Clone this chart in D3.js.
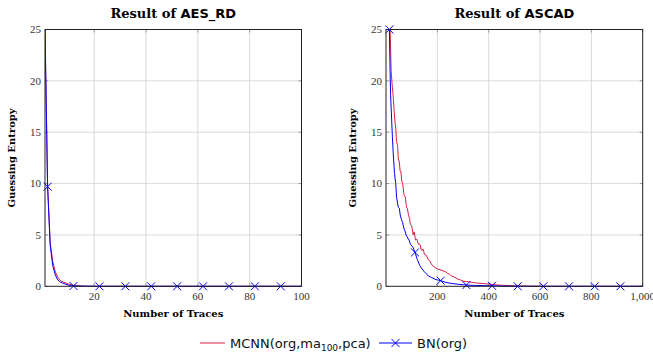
<!DOCTYPE html>
<html><head><meta charset="utf-8">
<script src="https://cdn.jsdelivr.net/npm/d3@7"></script>
<style>
body{margin:0;background:#fff;}
svg{display:block;}
.serif{font-family:"DejaVu Serif","Liberation Serif",serif;}
.tick{font-family:"Liberation Serif","DejaVu Serif",serif;}
</style></head>
<body>
<svg id="c" width="653" height="358"></svg>
<script>
// ---------- data ----------
// Left: AES_RD
const aesX_red  = [1,2,3,4,5,6,7,8,9,10,11,12,13,14,15,16,100];
const aesY_red  = [25,9.9,4.3,2.4,1.4,0.85,0.55,0.42,0.32,0.22,0.16,0.11,0.08,0.05,0.02,0,0];
const aesX_blue = [1,2,3,4,5,6,7,8,9,10,11,12,22,32,42,52,62,72,82,92,100];
const aesY_blue = [25,9.7,4.0,2.0,1.1,0.6,0.4,0.3,0.2,0.12,0.06,0.03,0,0,0,0,0,0,0,0,0];
const aesMarkers = [2,12,22,32,42,52,62,72,82,92];
const aesXTicks = [20,40,60,80,100];

// Right: ASCAD
const ascX_red = [1,16,20,24,28,32,35,38,41,45,48,52,55,58,61,65,70,75,80,83,88,92,95,100,106,110,115,120,126,132,138,145,150,158,164,170,176,182,190,200,210,222,232,240,248,256,268,280,290,301,315,330,350,375,400,425,450,500,550,600,1000];
const ascY_red = [25,25,21,19.6,18.5,17.0,16.0,15.4,14.1,13.7,12.4,12.1,11.2,11.2,10.3,10.0,8.9,8.7,7.7,7.6,6.9,6.6,6.0,5.9,5.0,5.3,4.5,4.6,4.1,4.1,3.5,3.6,3.1,3.0,2.6,2.5,2.2,2.0,1.85,1.7,1.62,1.5,1.42,1.25,1.17,1.0,0.88,0.7,0.62,0.5,0.46,0.4,0.33,0.28,0.22,0.15,0.1,0.05,0.02,0,0];
const ascX_blue = [1,13,16,18,22,25,28,33,38,41,45,48,52,55,60,65,70,74,78,85,90,95,105,113,122,132,140,150,158,165,178,190,200,213,230,250,280,313,350,413,460,513,613,713,813,913,1000];
const ascY_blue = [25,25,21,18.6,16.2,14.5,13,11,10,8.7,8.1,7.7,7.6,7.0,6.5,6.2,5.6,5.4,5.0,4.7,4.5,4.1,3.8,3.3,2.6,2.0,1.7,1.4,1.2,1.0,0.85,0.7,0.62,0.55,0.4,0.3,0.2,0.12,0.08,0.05,0.02,0,0,0,0,0,0];
const ascMarkers = [13,113,213,313,413,513,613,713,813,913];
const ascXTicks = [200,400,600,800,1000];

const yTicks = [0,5,10,15,20,25];
const legendLabels = ["MCNN(org,ma", "100", ",pca)", "BN(org)"];
const RED = "#dc1e46", BLUE = "#0000ff";

// ---------- drawing ----------
const svg = d3.select("#c");
const y = d3.scaleLinear().domain([0,25]).range([286.3,29.5]);

function panel(opts){
  const x = d3.scaleLinear().domain(opts.domain).range(opts.range);
  const g = svg.append("g");
  const [x0,x1] = opts.range, [y0,y1] = [y.range()[0], y.range()[1]];
  // grid
  g.selectAll(".gx").data(opts.xticks.filter(t=>t<opts.domain[1])).join("line")
    .attr("x1",d=>x(d)).attr("x2",d=>x(d)).attr("y1",y0).attr("y2",y1)
    .attr("stroke","#d0d0d0").attr("stroke-width",0.8);
  g.selectAll(".gy").data(yTicks.filter(t=>t>0&&t<25)).join("line")
    .attr("x1",x0).attr("x2",x1).attr("y1",d=>y(d)).attr("y2",d=>y(d))
    .attr("stroke","#d0d0d0").attr("stroke-width",0.8);
  // inward ticks
  const tk = 3;
  opts.xticks.forEach(t=>{
    g.append("line").attr("x1",x(t)).attr("x2",x(t)).attr("y1",y0).attr("y2",y0-tk).attr("stroke","#888").attr("stroke-width",0.8);
    g.append("line").attr("x1",x(t)).attr("x2",x(t)).attr("y1",y1).attr("y2",y1+tk).attr("stroke","#888").attr("stroke-width",0.8);
  });
  yTicks.forEach(t=>{
    g.append("line").attr("x1",x0).attr("x2",x0+tk).attr("y1",y(t)).attr("y2",y(t)).attr("stroke","#888").attr("stroke-width",0.8);
    g.append("line").attr("x1",x1).attr("x2",x1-tk).attr("y1",y(t)).attr("y2",y(t)).attr("stroke","#888").attr("stroke-width",0.8);
  });
  // lines
  const line = d3.line().x(d=>x(d[0])).y(d=>y(d[1]));
  const clipId = "clip"+opts.id;
  svg.append("clipPath").attr("id",clipId).append("rect")
    .attr("x",x0).attr("y",y1-2).attr("width",x1-x0+2).attr("height",y0-y1+4);
  const lg = g.append("g").attr("clip-path",`url(#${clipId})`);
  lg.append("path").datum(d3.zip(opts.redX,opts.redY)).attr("d",line)
    .attr("fill","none").attr("stroke",RED).attr("stroke-width",1);
  lg.append("path").datum(d3.zip(opts.blueX,opts.blueY)).attr("d",line)
    .attr("fill","none").attr("stroke",BLUE).attr("stroke-width",1);
  // markers
  const mk = d3.zip(opts.blueX,opts.blueY).filter(d=>opts.markers.includes(d[0]));
  const s = 4;
  mk.forEach(d=>{
    const cx=x(d[0]), cy=y(d[1]);
    g.append("path").attr("d",`M${cx-s},${cy-s}L${cx+s},${cy+s}M${cx-s},${cy+s}L${cx+s},${cy-s}`)
      .attr("stroke",BLUE).attr("stroke-width",1).attr("fill","none");
  });
  // frame
  g.append("rect").attr("x",x0).attr("y",y1).attr("width",x1-x0).attr("height",y0-y1)
    .attr("fill","none").attr("stroke","#222").attr("stroke-width",1);
  // tick labels
  g.selectAll(".xl").data(opts.xticks).join("text").attr("class","tick")
    .attr("x",d=>x(d)).attr("y",y0+14).attr("text-anchor","middle")
    .attr("font-size",11).attr("fill","#333").text(d=>d3.format(",")(d));
  g.selectAll(".yl").data(yTicks).join("text").attr("class","tick")
    .attr("x",x0-4).attr("y",d=>y(d)+3.8).attr("text-anchor","end")
    .attr("font-size",11).attr("fill","#333").text(d=>d);
  // title
  const cx = (x0+x1)/2;
  const t = g.append("text").attr("x",cx).attr("y",18).attr("text-anchor","middle")
    .attr("font-size",13).attr("font-weight","bold");
  t.append("tspan").attr("class","serif").text("Result of ");
  t.append("tspan").attr("font-family","DejaVu Sans, sans-serif").attr("font-size",13).text(opts.title);
  // axis labels
  g.append("text").attr("class","serif").attr("x",cx).attr("y",317).attr("text-anchor","middle")
    .attr("font-size",10).attr("font-weight","bold").text("Number of Traces");
  g.append("text").attr("class","serif").attr("transform",`translate(${opts.ylabX},158) rotate(-90)`)
    .attr("text-anchor","middle").attr("font-size",10).attr("font-weight","bold").text("Guessing Entropy");
}

panel({id:1, domain:[1,100], range:[45,301.5], xticks:aesXTicks, redX:aesX_red, redY:aesY_red,
  blueX:aesX_blue, blueY:aesY_blue, markers:aesMarkers, title:"AES_RD", ylabX:15});
panel({id:2, domain:[0,1000], range:[386,642.7], xticks:ascXTicks, redX:ascX_red, redY:ascY_red,
  blueX:ascX_blue, blueY:ascY_blue, markers:ascMarkers, title:"ASCAD", ylabX:356});

// legend
const L = svg.append("g").attr("font-family","DejaVu Sans, sans-serif").attr("font-size",13).attr("fill","#111");
L.append("line").attr("x1",200).attr("x2",225).attr("y1",343).attr("y2",343).attr("stroke",RED).attr("stroke-width",1);
const lt = L.append("text").attr("x",230).attr("y",347.5);
lt.append("tspan").text(legendLabels[0]);
lt.append("tspan").attr("font-size",9).attr("dy",3).text(legendLabels[1]);
lt.append("tspan").attr("dy",-3).text(legendLabels[2]);
L.append("line").attr("x1",379).attr("x2",412).attr("y1",343).attr("y2",343).attr("stroke",BLUE).attr("stroke-width",1);
L.append("path").attr("d","M391.5,339L399.5,347M391.5,347L399.5,339").attr("stroke",BLUE).attr("stroke-width",1).attr("fill","none");
L.append("text").attr("x",417).attr("y",347.5).text(legendLabels[3]);
</script>
</body></html>
